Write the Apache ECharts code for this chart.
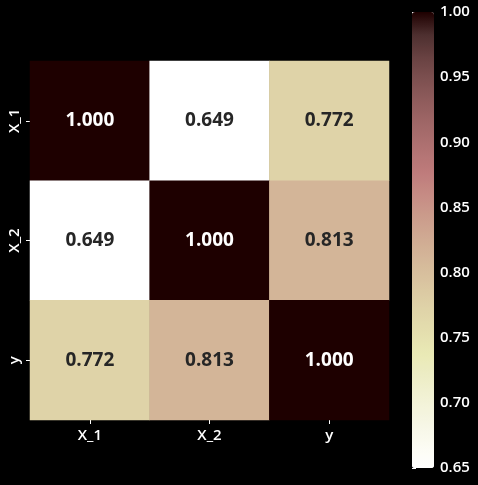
<!DOCTYPE html>
<html>
<head>
<meta charset="utf-8">
<script src="https://cdn.jsdelivr.net/npm/echarts@6/dist/echarts.min.js"></script>
<style>html,body{margin:0;padding:0;background:#000;}#c{width:478px;height:485px;}</style>
</head>
<body>
<div id="c"></div>
<script>
const categories = ['X_1', 'X_2', 'y'];
const matrix = [
  [1.000, 0.649, 0.772],
  [0.649, 1.000, 0.813],
  [0.772, 0.813, 1.000]
];
const colorbarTicks = [0.65, 0.70, 0.75, 0.80, 0.85, 0.90, 0.95, 1.00];
const pinkR = ['#ffffff','#fbfbf2','#f6f6e4','#f2f2d6','#ededc6','#e9e9b5','#e4deae','#dfd3a8','#dac6a1','#d5b99a','#d0ab93','#cb9c8c','#c68b84','#be7b7b','#b07272','#a16868','#915d5d','#7e5151','#694242','#4d2f2f','#1e0000'];

const FONT = '"Open Sans", "DejaVu Sans", sans-serif';
const data = [];
for (let r = 0; r < categories.length; r++) {
  for (let c = 0; c < categories.length; c++) {
    const v = matrix[r][c];
    data.push({ value: [c, r, v], label: { color: v > 0.9 ? '#ffffff' : '#262626' } });
  }
}

const chart = echarts.init(document.getElementById('c'));
chart.setOption({
  backgroundColor: '#000000',
  animation: false,
  grid: [
    { left: 30, top: 61, width: 359, height: 359 },
    { left: 412, top: 12, width: 22, height: 456 }
  ],
  xAxis: [
    {
      type: 'category', data: categories, gridIndex: 0,
      axisLine: { show: false },
      axisTick: { show: true, alignWithLabel: true, length: 4, lineStyle: { color: '#ffffff' } },
      axisLabel: { color: '#ffffff', fontSize: 15, fontWeight: 600, fontFamily: FONT, margin: 8 },
      splitArea: { show: false }, splitLine: { show: false }
    },
    { type: 'value', gridIndex: 1, show: false, min: 0, max: 1 }
  ],
  yAxis: [
    {
      type: 'category', data: categories, gridIndex: 0, inverse: true,
      axisLine: { show: false },
      axisTick: { show: true, alignWithLabel: true, length: 4, lineStyle: { color: '#ffffff' } },
      axisLabel: { color: '#ffffff', fontSize: 15, fontWeight: 600, fontFamily: FONT, rotate: 90, margin: 8 },
      splitArea: { show: false }, splitLine: { show: false }
    },
    {
      type: 'value', gridIndex: 1, position: 'right',
      min: colorbarTicks[0], max: colorbarTicks[colorbarTicks.length - 1], interval: 0.05,
      axisLine: { show: false },
      axisTick: { show: true, length: 4, lineStyle: { color: '#ffffff' } },
      axisLabel: { color: '#ffffff', fontSize: 15, fontWeight: 600, fontFamily: FONT, margin: 6,
        formatter: v => v.toFixed(2) },
      splitLine: { show: false }
    }
  ],
  visualMap: {
    type: 'continuous',
    min: 0.65, max: 1.0,
    seriesIndex: 0,
    calculable: false,
    hoverLink: false,
    left: 412, top: 12,
    padding: 0,
    itemWidth: 22, itemHeight: 456,
    text: null,
    inRange: { color: pinkR },
    outOfRange: { color: '#ffffff' }
  },
  series: [{
    type: 'heatmap',
    xAxisIndex: 0, yAxisIndex: 0,
    data: data,
    label: {
      show: true,
      fontSize: 19, fontWeight: 'bold', fontFamily: FONT,
      formatter: p => p.value[2].toFixed(3)
    },
    itemStyle: { borderWidth: 0 },
    emphasis: { disabled: true }
  }]
});
</script>
</body>
</html>
